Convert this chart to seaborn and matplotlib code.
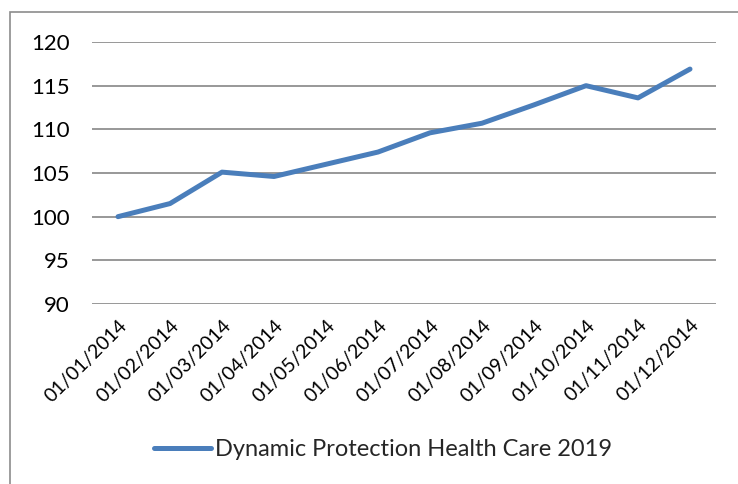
import matplotlib
matplotlib.use("Agg")
import matplotlib.pyplot as plt
import seaborn as sns
import pandas as pd
from matplotlib.patches import Rectangle
from matplotlib.lines import Line2D

dates = ["01/01/2014", "01/02/2014", "01/03/2014", "01/04/2014", "01/05/2014", "01/06/2014",
         "01/07/2014", "01/08/2014", "01/09/2014", "01/10/2014", "01/11/2014", "01/12/2014"]
values = [100.0, 101.5, 105.1, 104.6, 106.0, 107.4, 109.6, 110.7, 112.8, 115.0, 113.6, 116.9]
series_name = "Dynamic Protection Health Care 2019"
yticks = [90, 95, 100, 105, 110, 115, 120]

df = pd.DataFrame({"pos": range(len(dates)), "value": values, "series": series_name})

sns.set_style("white")
plt.rcParams["font.family"] = ["Lato", "DejaVu Sans"]

W, H = 738, 484
fig = plt.figure(figsize=(W / 100, H / 100), dpi=100)
ax = fig.add_axes([92 / W, 1 - 304 / H, (716 - 92) / W, (304 - 42) / H])

sns.lineplot(data=df, x="pos", y="value", hue="series", palette=["#4a7ebb"],
             linewidth=3.6, ax=ax, legend=False)

ax.set_xlim(-0.5, len(dates) - 0.5)
ax.set_ylim(90, 120)
ax.set_yticks(yticks)
ax.set_yticklabels([str(t) for t in yticks], fontsize=16, color="#000000")
ax.set_xticks(range(len(dates)))
ax.set_xticklabels(dates, rotation=45, ha="right", rotation_mode="anchor",
                   fontsize=14, color="#000000")
ax.tick_params(axis="y", length=0, pad=16)
ax.tick_params(axis="x", length=0, pad=9)
ax.set_xlabel("")
ax.set_ylabel("")
for s in ax.spines.values():
    s.set_visible(False)
ax.yaxis.grid(True, color="#868686", linewidth=1.2)
ax.xaxis.grid(False)
ax.set_axisbelow(True)

handle = Line2D([], [], color="#4a7ebb", linewidth=3.6)
leg = fig.legend([handle], [series_name], loc="center", bbox_to_anchor=(383 / W, 1 - 450 / H),
                 frameon=False, fontsize=17, handlelength=2.4, handletextpad=0.15)

fig.patches.append(Rectangle((10 / W, -0.1), 1.2, 1 - 12 / H + 0.1, transform=fig.transFigure,
                             fill=False, edgecolor="#8c8c8c", linewidth=1.2))

fig.savefig("out.png", dpi=100, facecolor="white")
